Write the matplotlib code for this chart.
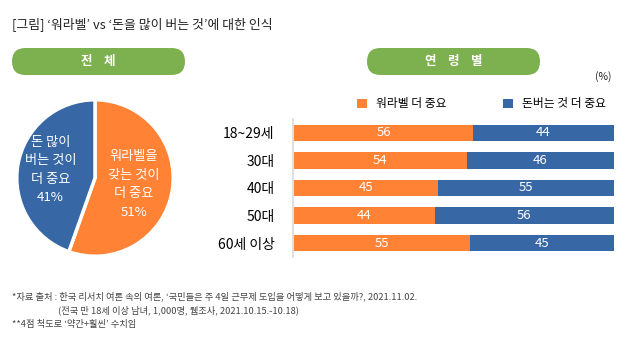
import matplotlib.pyplot as plt
from matplotlib.patches import FancyBboxPatch

plt.rcParams['font.family'] = ['Noto Sans CJK KR', 'DejaVu Sans']

# data
pie_labels = ['워라벨을\n갖는 것이\n더 중요\n51%', '돈 많이\n버는 것이\n더 중요\n41%']
pie_values = [51, 41]

ages = ['18~29세', '30대', '40대', '50대', '60세 이상']
worklife = [56, 54, 45, 44, 55]
money = [44, 46, 55, 56, 45]
series_names = ['워라벨 더 중요', '돈버는 것 더 중요']

ORANGE = '#FF8235'
BLUE = '#3767A5'
GREEN = '#7DB04F'

W, H = 635, 344
fig = plt.figure(figsize=(W / 100, H / 100), dpi=100)


def px_axes(x0, y0, x1, y1):
    # pixel box (top-left origin) -> figure axes
    return fig.add_axes([x0 / W, 1 - y1 / H, (x1 - x0) / W, (y1 - y0) / H])


def pill(x0, y0, x1, y1, text):
    ax = px_axes(x0, y0, x1, y1)
    ax.set_xlim(0, x1 - x0)
    ax.set_ylim(0, y1 - y0)
    ax.axis('off')
    r = (y1 - y0) / 2
    ax.add_patch(FancyBboxPatch((0, 0), x1 - x0, y1 - y0,
                                boxstyle=f'round,pad=0,rounding_size={r}',
                                fc=GREEN, ec='none'))
    ax.text((x1 - x0) / 2, r, text, color='white', fontsize=9,
            fontweight='bold', ha='center', va='center')


fig.text(12 / W, 1 - 24 / H, "[그림] ‘워라벨’ vs ‘돈을 많이 버는 것’에 대한 인식",
         fontsize=9.3, ha='left', va='center', color='#222222')

pill(12, 48, 185, 75, '전    체')
pill(367, 48, 540, 75, '연    령    별')

# pie
axp = px_axes(16, 99, 174, 257)
wedges, _ = axp.pie(pie_values, colors=[ORANGE, BLUE], startangle=90,
                    counterclock=False,
                    wedgeprops=dict(edgecolor='white', linewidth=2.5))
axp.set_xlim(-1.01, 1.01)
axp.set_ylim(-1.01, 1.01)
axp.set_aspect('equal')
axp.text(0.5, -0.08, pie_labels[0], color='white', fontsize=9.5,
         ha='center', va='center', linespacing=1.55)
axp.text(-0.57, 0.1, pie_labels[1], color='white', fontsize=9.5,
         ha='center', va='center', linespacing=1.55)

# stacked bars
axb = px_axes(294, 119, 614, 257)
y = list(range(len(ages)))
axb.barh(y, worklife, height=0.6, color=ORANGE, label=series_names[0])
axb.barh(y, money, left=worklife, height=0.6, color=BLUE, label=series_names[1])
for i in y:
    axb.text(worklife[i] / 2, i, str(worklife[i]), color='white', fontsize=9.5,
             ha='center', va='center')
    axb.text(worklife[i] + money[i] / 2, i, str(money[i]), color='white',
             fontsize=9.5, ha='center', va='center')
axb.set_xlim(0, 100)
axb.set_ylim(len(ages) - 0.5, -0.5)
axb.set_yticks(y)
axb.set_yticklabels(ages, fontsize=8.3, color='#222222')
axb.tick_params(axis='y', length=0, pad=13)
axb.set_xticks([])
for s in ['top', 'right', 'bottom']:
    axb.spines[s].set_visible(False)
axb.spines['left'].set_color('#d9d9d9')
axb.spines['left'].set_linewidth(1.2)
axb.spines['left'].set_position(('outward', 1))

fig.legend(handles=axb.patches[:1] + axb.patches[len(ages):len(ages) + 1],
           labels=series_names, loc='center left', ncol=2, frameon=False,
           bbox_to_anchor=(346 / W, 1 - 104 / H), fontsize=8.5,
           handlelength=0.9, handleheight=0.9, handletextpad=0.7,
           columnspacing=4.8)

fig.text(612 / W, 1 - 77 / H, '(%)', fontsize=7.5, ha='right', va='center',
         color='#222222')

# footnotes
foot_kw = dict(fontsize=6.7, ha='left', va='center', color='#444444')
fig.text(12 / W, 1 - 296 / H,
         "*자료 출처 : 한국 리서치 여론 속의 여론, ‘국민들은 주 4일 근무제 도입을 어떻게 보고 있을까?, 2021.11.02.",
         **foot_kw)
fig.text(58 / W, 1 - 310 / H,
         "(전국 만 18세 이상 남녀, 1,000명, 웹조사, 2021.10.15.-10.18)", **foot_kw)
fig.text(12 / W, 1 - 324 / H, "**4점 척도로 ‘약간+훨씬’ 수치임", **foot_kw)

fig.savefig('out.png', dpi=100)
